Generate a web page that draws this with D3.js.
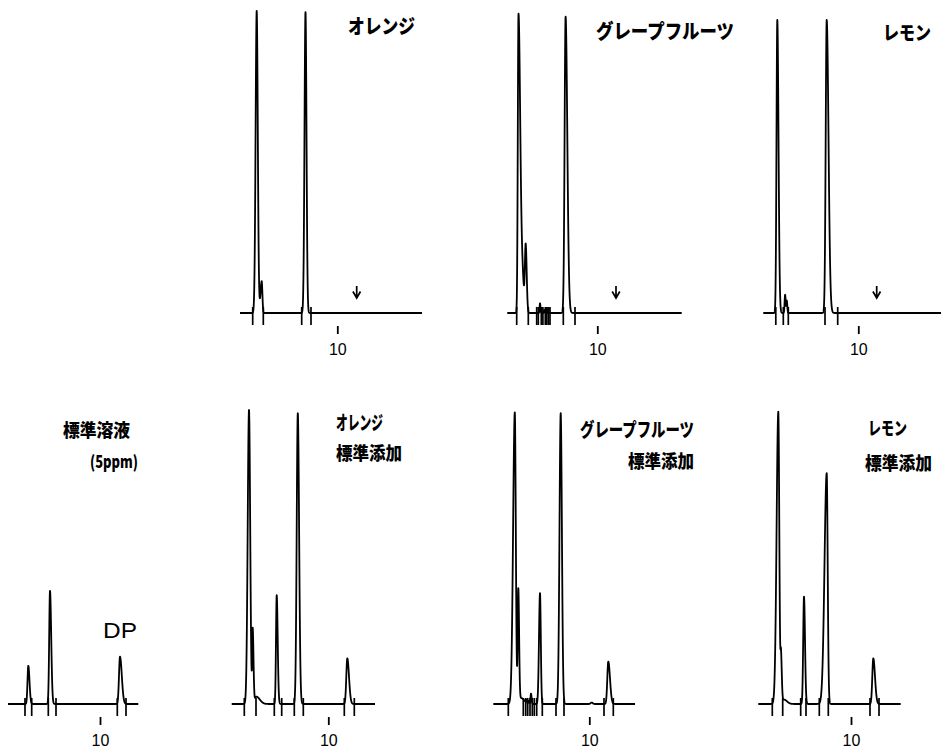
<!DOCTYPE html>
<html lang="ja">
<head>
<meta charset="utf-8">
<script src="https://cdn.jsdelivr.net/npm/d3@7"></script>
<style>
  body { margin: 0; background: #fff; }
  svg { display: block; }
  .trace { fill: none; stroke: #000; stroke-width: 1.8; stroke-linejoin: round; }
  .marker, .arrow { stroke: #000; stroke-width: 1.7; fill: none; }
  .title { font-family: "Noto Sans CJK JP", sans-serif; font-weight: 900; fill: #000; }
  .latin { font-family: "Liberation Sans", Arial, sans-serif; font-weight: 400; fill: #000; }
  .axis text { font-family: "Liberation Sans", Arial, sans-serif; font-size: 16px; fill: #000; }
  .axis line { stroke: #000; stroke-width: 1.8; }
</style>
</head>
<body>
<div id="chart"></div>
<script>
// peaks: [retention time (min), height (% of full scale), sigma left, sigma right]
// markers: integration marks (min), run: [start, end] of the trace (min)

// top row: sample extracts
const peaksOrange = [[1.94, 99.7, 0.11, 0.11], [2.44, 10.5, 0.12, 0.07], [6.82, 99.3, 0.1, 0.1]];
const markersOrange = [1.54, 2.6, 6.44, 7.37];
const runOrange = [0.27, 18.47];

const peaksGrapefruit = [[2.12, 98.3, 0.07, 0.17], [2.5, 12, 0.15, 0.15], [2.84, 22, 0.08, 0.1],
    [4.27, 3.2, 0.04, 0.05], [4.7, 1, 0.04, 0.04], [5.1, 1.7, 0.04, 0.04], [6.83, 97.8, 0.1, 0.17]];
const markersGrapefruit = [1.94, 3.1, 3.94, 4.1, 4.4, 4.56, 4.8, 4.95, 5.12, 5.27, 6.6, 7.77];
const runGrapefruit = [1.0, 18.44];

const peaksLemon = [[1.9, 96.7, 0.08, 0.12], [2.68, 6, 0.05, 0.06], [2.85, 4, 0.04, 0.05], [6.84, 96.7, 0.1, 0.18]];
const markersLemon = [1.75, 2.5, 3.0, 6.67, 7.94];
const runLemon = [0.5, 18.3];

// expected DP position in the samples (arrows)
const arrowTimes = [11.94, 11.87, 11.84];

// bottom row: standard solution and spiked samples
const peaksStandard = [[2.83, 13, 0.08, 0.12], [5.0, 38.5, 0.08, 0.12], [12.0, 16.1, 0.1, 0.18]];
const markersStandard = [2.5, 3.17, 4.83, 5.6, 11.73, 12.6];
const runStandard = [0.8, 13.83];

const peaksOrangeSpiked = [[2.07, 100, 0.13, 0.12], [2.44, 25, 0.05, 0.08], [2.8, 2.5, 0.15, 0.35],
    [4.84, 37, 0.07, 0.1], [6.95, 98.9, 0.11, 0.13], [11.9, 15.5, 0.1, 0.17]];
const markersOrangeSpiked = [1.6, 2.77, 4.6, 5.34, 6.6, 7.5, 11.6, 12.6];
const runOrangeSpiked = [0.34, 14.67];

const peaksGrapefruitSpiked = [[2.55, 99, 0.17, 0.1], [2.9, 38, 0.06, 0.08], [3.2, 2, 0.3, 0.3],
    [3.7, 1, 0.05, 0.05], [3.95, 1, 0.05, 0.05], [4.17, 3.5, 0.05, 0.06], [5.07, 37.7, 0.1, 0.08],
    [7.14, 98.9, 0.12, 0.12], [10.24, 0.5, 0.1, 0.1], [11.9, 14.4, 0.1, 0.17]];
const markersGrapefruitSpiked = [1.9, 3.4, 3.64, 3.84, 4.07, 4.3, 4.5, 4.74, 5.3, 6.67, 7.47, 11.47, 12.4];
const runGrapefruitSpiked = [0.4, 14.57];

const peaksLemonSpiked = [[2.73, 99.4, 0.17, 0.1], [3.0, 16, 0.05, 0.08], [3.3, 1.5, 0.15, 0.3],
    [5.3, 36.5, 0.08, 0.1], [7.57, 78.5, 0.22, 0.1], [12.23, 15.5, 0.1, 0.17]];
const markersLemonSpiked = [2.13, 3.17, 4.97, 5.5, 6.83, 7.73, 11.9, 12.8];
const runLemonSpiked = [0.73, 14.97];

const tickValues = [10];

const titles = [
    { text: "オレンジ", x: 348, y: 25.5, w: 67, size: 20 },
    { text: "グレープフルーツ", x: 596, y: 30.5, w: 138, size: 20 },
    { text: "レモン", x: 883, y: 31.5, w: 48, size: 19 },
    { text: "標準溶液", x: 63, y: 428.5, w: 67, size: 18 },
    { text: "(5ppm)", x: 90, y: 460, w: 48, size: 17 },
    { text: "DP", x: 103, y: 630.5, w: 34, size: 22, cls: "latin" },
    { text: "オレンジ", x: 336, y: 421.5, w: 47, size: 19 },
    { text: "標準添加", x: 336, y: 451.5, w: 66, size: 18 },
    { text: "グレープフルーツ", x: 580, y: 428.5, w: 114, size: 19 },
    { text: "標準添加", x: 628, y: 459.5, w: 66, size: 18 },
    { text: "レモン", x: 868, y: 426.5, w: 39, size: 18 },
    { text: "標準添加", x: 865, y: 461.5, w: 67, size: 18 },
];

const width = 941;
const height = 752;
const pxPerMin = 10;

const rows = {
    top:    { base: 313, full: 10 },
    bottom: { base: 704, full: 410 },
};

const panels = [
    { peaks: peaksOrange,           markers: markersOrange,           run: runOrange,           x10: 337.3, row: "top", arrow: arrowTimes[0] },
    { peaks: peaksGrapefruit,       markers: markersGrapefruit,       run: runGrapefruit,       x10: 597.3, row: "top", arrow: arrowTimes[1] },
    { peaks: peaksLemon,            markers: markersLemon,            run: runLemon,            x10: 858.3, row: "top", arrow: arrowTimes[2] },
    { peaks: peaksStandard,         markers: markersStandard,         run: runStandard,         x10: 100,   row: "bottom" },
    { peaks: peaksOrangeSpiked,     markers: markersOrangeSpiked,     run: runOrangeSpiked,     x10: 328.3, row: "bottom" },
    { peaks: peaksGrapefruitSpiked, markers: markersGrapefruitSpiked, run: runGrapefruitSpiked, x10: 589.3, row: "bottom" },
    { peaks: peaksLemonSpiked,      markers: markersLemonSpiked,      run: runLemonSpiked,      x10: 851,   row: "bottom" },
];

// detector response at time t, sum of asymmetric gaussian peaks
function signal(peaks, t) {
    let s = 0;
    for (const [t0, h, sl, sr] of peaks) {
        const z = (t - t0) / (t < t0 ? sl : sr);
        if (Math.abs(z) < 9) s += h * Math.exp(-0.5 * z * z);
    }
    return s;
}

const svg = d3.select("#chart").append("svg")
    .attr("width", width)
    .attr("height", height);

svg.append("rect").attr("width", width).attr("height", height).attr("fill", "#fff");

panels.forEach(p => {
    const row = rows[p.row];
    const x = d3.scaleLinear()
        .domain([0, 20])
        .range([p.x10 - 10 * pxPerMin, p.x10 + 10 * pxPerMin]);
    const y = d3.scaleLinear()
        .domain([0, 100])
        .range([row.base, row.full]);

    const g = svg.append("g");

    const times = d3.range(p.run[0], p.run[1], 0.004)
        .concat(p.peaks.map(d => d[0]), [p.run[1]])
        .sort((a, b) => a - b);
    const pts = times.map(t => ({ t, v: signal(p.peaks, t) }));

    const line = d3.line()
        .x(d => x(d.t))
        .y(d => y(d.v));

    g.append("path")
        .datum(pts)
        .attr("class", "trace")
        .attr("d", line);

    g.selectAll("line.marker")
        .data(p.markers)
        .enter().append("line")
            .attr("class", "marker")
            .attr("x1", d => x(d)).attr("x2", d => x(d))
            .attr("y1", row.base - 6)
            .attr("y2", row.base + 12);

    const axis = d3.axisBottom(x)
        .tickValues(tickValues)
        .tickSize(8)
        .tickPadding(10)
        .tickFormat(d3.format("d"));

    const ax = g.append("g")
        .attr("class", "axis")
        .attr("transform", `translate(0,${row.base + 13})`)
        .call(axis);
    ax.select(".domain").remove();

    if (p.arrow !== undefined) {
        const ax0 = x(p.arrow);
        const b = row.base;
        g.append("path")
            .attr("class", "arrow")
            .attr("d", `M${ax0},${b - 27}L${ax0},${b - 15}M${ax0 - 3.8},${b - 21.5}L${ax0},${b - 15}L${ax0 + 3.8},${b - 21.5}`);
    }
});

svg.selectAll("text.label")
    .data(titles)
    .enter().append("text")
        .attr("class", d => "label " + (d.cls || "title"))
        .attr("x", d => d.x)
        .attr("y", d => d.y)
        .attr("dominant-baseline", "central")
        .attr("font-size", d => d.size)
        .attr("textLength", d => d.w)
        .attr("lengthAdjust", "spacingAndGlyphs")
        .text(d => d.text);
</script>
</body>
</html>
